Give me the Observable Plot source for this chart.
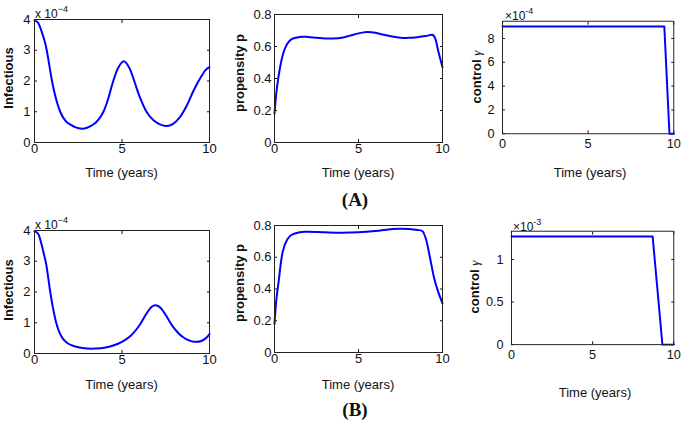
<!DOCTYPE html>
<html>
<head>
<meta charset="utf-8">
<script src="https://cdn.jsdelivr.net/npm/d3@7"></script>
<script src="https://cdn.jsdelivr.net/npm/@observablehq/plot@0.6"></script>
<style>
  html, body { margin: 0; padding: 0; background: #fff; }
  #root { position: relative; width: 685px; height: 421px; background: #fff; overflow: hidden;
          font-family: "Liberation Sans", Arial, Helvetica, sans-serif; color: #111; }
  .lbl { position: absolute; white-space: nowrap; font-size: 13px; line-height: 1; }
  .c { transform: translate(-50%, -50%); }
  .r { transform: translate(-50%, -50%) rotate(-90deg); font-weight: bold; }
  .exp { position: absolute; white-space: nowrap; font-size: 12px; line-height: 1; }
  .exp sup { font-size: 9px; vertical-align: 6px; }
  .panel { position: absolute; }
  .tag { position: absolute; font-family: "Liberation Serif", "Times New Roman", serif; font-weight: bold;
         font-size: 19px; transform: translate(-50%, -50%); line-height: 1; }
</style>
</head>
<body>
<div id="root"></div>
<script>
// ---------- data ----------
const xTicks = [0, 5, 10];

// (A) Infectious (×1e-4)
const infA_t = [0,0.2,0.4,0.6,0.7,0.85,1.0,1.15,1.3,1.47,1.65,1.85,2.0,2.35,2.7,3.0,3.4,3.7,3.94,4.2,4.5,4.8,5.1,5.4,5.7,6.0,6.4,6.8,7.2,7.55,7.9,8.3,8.7,9.1,9.5,9.8,10];
const infA_v = [3.97,3.9,3.62,3.25,3.0,2.5,2.0,1.6,1.28,1.0,0.8,0.66,0.6,0.49,0.45,0.48,0.6,0.78,1.0,1.4,2.0,2.45,2.64,2.45,2.0,1.5,1.0,0.72,0.58,0.54,0.6,0.82,1.2,1.7,2.12,2.37,2.45];

// (A) propensity p
const propA_t = [0,0.1,0.25,0.5,0.75,1,1.5,2,2.5,3,3.5,4,4.5,5,5.5,6,6.5,7,7.5,8,8.5,9,9.4,9.55,9.75,10];
const propA_v = [0.18,0.3,0.42,0.55,0.615,0.645,0.66,0.66,0.655,0.65,0.65,0.655,0.668,0.682,0.69,0.686,0.673,0.662,0.655,0.654,0.658,0.665,0.673,0.655,0.57,0.47];

// (A) control gamma (×1e-4)
const ctrlA_t = [0, 9.45, 9.75, 10];
const ctrlA_v = [9, 9, 0, 0];

// (B) Infectious (×1e-4)
const infB_t = [0,0.2,0.4,0.55,0.67,0.8,0.9,1.05,1.24,1.4,1.6,1.85,2.1,2.5,3.0,3.5,4.0,4.5,5.0,5.5,6.0,6.4,6.7,6.9,7.1,7.3,7.5,7.7,7.9,8.1,8.3,8.5,8.7,8.9,9.1,9.3,9.5,9.7,9.85,10];
const infB_v = [3.97,3.9,3.55,3.2,2.9,2.4,2.0,1.5,1.0,0.72,0.5,0.35,0.27,0.2,0.16,0.16,0.19,0.26,0.38,0.58,0.92,1.3,1.52,1.57,1.53,1.42,1.25,1.06,0.88,0.74,0.62,0.53,0.46,0.41,0.385,0.38,0.4,0.46,0.53,0.63];

// (B) propensity p
const propB_t = [0,0.1,0.25,0.5,0.75,1,1.5,2,3,4,5,6,7,7.5,8,8.5,8.8,9.0,9.25,9.5,9.75,10];
const propB_v = [0.18,0.32,0.45,0.64,0.71,0.74,0.758,0.76,0.757,0.755,0.757,0.765,0.778,0.78,0.778,0.772,0.765,0.72,0.6,0.47,0.38,0.31];

// (B) control gamma (×1e-3)
const ctrlB_t = [0, 8.7, 9.3, 10];
const ctrlB_v = [1.27, 1.27, 0, 0];

// ---------- drawing ----------
const root = document.getElementById("root");
const rows = (t, v) => t.map((x, i) => ({t: x, v: v[i]}));
const fmt = d => String(d);

function panel(p) {
  const ml = 45, mr = 12, mt = 12, mb = 30;
  const chart = Plot.plot({
    width: p.w + ml + mr, height: p.h + mt + mb,
    marginLeft: ml, marginRight: mr, marginTop: mt, marginBottom: mb,
    x: {domain: [0, 10]},
    y: {domain: p.yDomain},
    style: {background: "transparent", overflow: "visible",
            fontFamily: "'Liberation Sans', Arial, Helvetica, sans-serif", fontSize: "13px", color: "#111"},
    marks: [
      Plot.axisX({ticks: xTicks, anchor: "bottom", tickSize: 0, tickPadding: p.xPad, label: null, tickFormat: fmt, fontSize: 13}),
      Plot.axisX({ticks: xTicks, anchor: "bottom", tickSize: -3, tickFormat: () => "", label: null}),
      Plot.axisX({ticks: xTicks, anchor: "top", tickSize: -3, tickFormat: () => "", label: null}),
      Plot.axisY({ticks: p.yTicks, anchor: "left", tickSize: 0, tickPadding: p.yPad, label: null, tickFormat: fmt, fontSize: 13}),
      Plot.axisY({ticks: p.yTicks, anchor: "left", tickSize: -3, tickFormat: () => "", label: null}),
      Plot.axisY({ticks: p.yTicks, anchor: "right", tickSize: -3, tickFormat: () => "", label: null}),
      Plot.line(rows(p.t, p.v), {x: "t", y: "v", stroke: "#0000ff", strokeWidth: 2,
                                 curve: p.curve || "catmull-rom"}),
      Plot.frame({stroke: "#222", strokeWidth: 1})
    ]
  });
  const wrap = document.createElement("div");
  wrap.className = "panel";
  wrap.style.left = (p.x - ml) + "px";
  wrap.style.top = (p.y - mt) + "px";
  wrap.appendChild(chart);
  root.appendChild(wrap);
}

function label(html, x, y, cls) {
  const d = document.createElement("div");
  d.className = cls;
  d.innerHTML = html;
  d.style.left = x + "px";
  d.style.top = y + "px";
  root.appendChild(d);
}

// Row A
panel({x: 34, y: 19, w: 175, h: 123, yDomain: [0, 4], yTicks: [0,1,2,3,4], t: infA_t, v: infA_v, xPad: 1, yPad: 4});
panel({x: 274, y: 14, w: 168, h: 128, yDomain: [0, 0.8], yTicks: [0,0.2,0.4,0.6,0.8], t: propA_t, v: propA_v, xPad: 1, yPad: 3});
panel({x: 503, y: 21, w: 175, h: 115, yDomain: [0, 9.45], yTicks: [0,2,4,6,8], t: ctrlA_t, v: ctrlA_v, xPad: 5, yPad: 8, curve: "linear"});
// Row B
panel({x: 34, y: 230, w: 175, h: 123, yDomain: [0, 4], yTicks: [0,1,2,3,4], t: infB_t, v: infB_v, xPad: 1, yPad: 4});
panel({x: 274, y: 225, w: 168, h: 127, yDomain: [0, 0.8], yTicks: [0,0.2,0.4,0.6,0.8], t: propB_t, v: propB_v, xPad: 1, yPad: 3});
panel({x: 512, y: 231, w: 166, h: 116, yDomain: [0, 1.333], yTicks: [0,0.5,1], t: ctrlB_t, v: ctrlB_v, xPad: 5, yPad: 8, curve: "linear"});

// axis titles
label("Time (years)", 121.5, 172, "lbl c");
label("Time (years)", 358, 172, "lbl c");
label("Time (years)", 590, 172, "lbl c");
label("Time (years)", 121.5, 384, "lbl c");
label("Time (years)", 358, 384, "lbl c");
label("Time (years)", 595, 392, "lbl c");

label("Infectious", 8, 78, "lbl r");
label("propensity p", 238.5, 73, "lbl r");
label('control <span style="font-weight:normal;font-style:italic;font-family:\'Liberation Serif\',serif">γ</span>', 476, 77, "lbl r");
label("Infectious", 8, 290, "lbl r");
label("propensity p", 238.5, 283, "lbl r");
label('control <span style="font-weight:normal;font-style:italic;font-family:\'Liberation Serif\',serif">γ</span>', 474, 287, "lbl r");

// exponent markers
label("x 10<sup>−4</sup>", 35, 5, "exp");
label("×10<sup>-4</sup>", 505, 7, "exp");
label("x 10<sup>−4</sup>", 35, 216, "exp");
label("×10<sup>-3</sup>", 513, 218, "exp");

// panel tags
label("(A)", 355, 199, "tag");
label("(B)", 355, 409, "tag");
</script>
</body>
</html>
